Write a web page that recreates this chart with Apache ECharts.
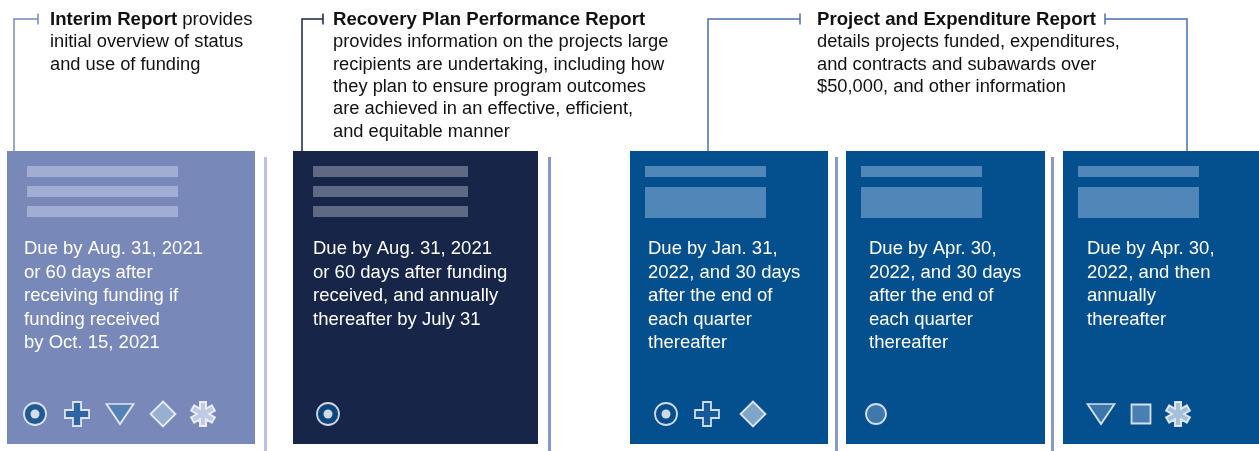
<!DOCTYPE html>
<html><head><meta charset="utf-8">
<script src="https://cdn.jsdelivr.net/npm/echarts@6/dist/echarts.min.js"></script>
<style>html,body{margin:0;padding:0;background:#fff}#c{width:1259px;height:451px}</style>
</head><body><div id="c"></div>
<script>
// ---------- content ----------
const reportTitles = ['Interim Report', 'Recovery Plan Performance Report', 'Project and Expenditure Report'];
const titleTails = [' provides', '', ''];
const headerLines = [
  ['initial overview of status', 'and use of funding'],
  ['provides information on the projects large', 'recipients are undertaking, including how', 'they plan to ensure program outcomes', 'are achieved in an effective, efficient,', 'and equitable manner'],
  ['details projects funded, expenditures,', 'and contracts and subawards over', '$50,000, and other information']
];
const dueLines = [
  ['Due by Aug. 31, 2021', 'or 60 days after', 'receiving funding if', 'funding received', 'by Oct. 15, 2021'],
  ['Due by Aug. 31, 2021', 'or 60 days after funding', 'received, and annually', 'thereafter by July 31'],
  ['Due by Jan. 31,', '2022, and 30 days', 'after the end of', 'each quarter', 'thereafter'],
  ['Due by Apr. 30,', '2022, and 30 days', 'after the end of', 'each quarter', 'thereafter'],
  ['Due by Apr. 30,', '2022, and then', 'annually', 'thereafter']
];
const boxReport = [0, 1, 2, 2, 2];
const boxIcons = [
  ['target', 'plus', 'triangle', 'diamond', 'asterisk'],
  ['target'],
  ['target', 'plus', 'diamond'],
  ['circle'],
  ['triangle', 'square', 'asterisk']
];

// ---------- layout ----------
const W = 1259, H = 451;
const FONT = '"Liberation Sans", Arial, Helvetica, sans-serif';
const FS = 18.5;
const HFS = 18.3;
const BOX_X = [[7, 255], [293, 538], [630, 828], [846, 1045], [1063, 1259]];
const BOX_TOP = 151, BOX_BOTTOM = 444;
const BOX_COLOR = ['#7888b8', '#172548', '#044f8d', '#044f8d', '#044f8d'];
const TEXT_DX = [17, 20, 18, 23, 24];
const DUE_Y0 = 249, DUE_LH = 23.5;
const SEPS = [[265.5, '#bcc2e3'], [549.5, '#8c97c9'], [836.5, '#8c97c9'], [1052.5, '#8c97c9']];
const SEP_TOP = 157;
const HEAD_X = [50, 333, 817];
const HEAD_Y0 = 20, HEAD_LH = 22.3;
const BRACKETS = [
  {color: '#7888b8', left: [14, 38]},
  {color: '#172548', left: [302, 323]},
  {color: '#4a70aa', left: [708, 800], right: [1105, 1187]}
];
const BRACKET_Y = 19;
const ICON_DX = [[28, 70, 113, 156, 196], [35], [36, 77, 123], [30], [38, 78, 115]];
const ICON_Y = 414;

// ---------- symbols ----------
const plusPath = 'path://M8,0H16V8H24V16H16V24H8V16H0V8H8Z';
const triPath = 'path://M0,0H28L14,22Z';
function starPath(n, L, w) {
  const beta = Math.PI / n, r = w / Math.sin(beta);
  const pts = [];
  for (let k = 0; k < n; k++) {
    const a = -Math.PI / 2 + k * 2 * Math.PI / n;
    const c = Math.cos(a), s = Math.sin(a);
    pts.push([L * c + w * s, L * s - w * c]);
    pts.push([L * c - w * s, L * s + w * c]);
    const b = a + beta;
    pts.push([r * Math.cos(b), r * Math.sin(b)]);
  }
  return 'path://M' + pts.map(p => (p[0] + L).toFixed(2) + ',' + (p[1] + L).toFixed(2)).join('L') + 'Z';
}
const ICON_STYLE = {
  target:   {symbol: 'circle', size: 22, color: '#0b4d8b'},
  plus:     {symbol: plusPath, size: 24, color: '#1d5c9c'},
  triangle: {symbol: triPath, size: [27, 20], color: '#4a80b5'},
  diamond:  {symbol: 'diamond', size: 25, color: '#9fbad8'},
  asterisk: {symbol: starPath(6, 12, 3.1), size: 24, color: '#cfdcee'},
  circle:   {symbol: 'circle', size: 20, color: '#4f82b5'},
  square:   {symbol: 'rect', size: 19, color: '#5b8bbd'}
};

const iconData = [], dotData = [];
boxIcons.forEach((list, i) => {
  list.forEach((name, k) => {
    const st = ICON_STYLE[name];
    const x = BOX_X[i][0] + ICON_DX[i][k];
    iconData.push({
      value: [x, ICON_Y], symbol: st.symbol, symbolSize: st.size,
      itemStyle: {color: st.color, borderColor: '#ffffff', borderWidth: 1.8}
    });
    if (name === 'target') dotData.push([x, ICON_Y]);
  });
});

const chart = echarts.init(document.getElementById('c'), null, {renderer: 'canvas'});

const option = {
  animation: false,
  backgroundColor: '#ffffff',
  grid: {left: 0, right: 0, top: 0, bottom: 0},
  xAxis: {type: 'value', min: 0, max: W, show: false},
  yAxis: {type: 'value', min: 0, max: H, inverse: true, show: false},
  series: [
    {
      type: 'custom', name: 'boxes', silent: true, clip: false, z: 2,
      data: dueLines.map((_, i) => [i, 0]),
      renderItem(params, api) {
        const i = params.dataIndex;
        const [x0, x1] = BOX_X[i];
        const tl = api.coord([x0, BOX_TOP]), br = api.coord([x1, BOX_BOTTOM]);
        const ch = [{type: 'rect', shape: {x: tl[0], y: tl[1], width: br[0] - tl[0], height: br[1] - tl[1]}, style: {fill: BOX_COLOR[i]}}];
        if (i < 2) {
          const fill = i === 0 ? '#a2add3' : '#5f6983';
          [166, 186, 206].forEach(y => {
            const p = api.coord([x0 + 20, y]);
            ch.push({type: 'rect', shape: {x: p[0], y: p[1], width: i === 0 ? 151 : 155, height: 11}, style: {fill}});
          });
        } else {
          const p1 = api.coord([x0 + 15, 166]);
          ch.push({type: 'rect', shape: {x: p1[0], y: p1[1], width: 121, height: 11}, style: {fill: '#5086b8'}});
          const p2 = api.coord([x0 + 15, 187]);
          ch.push({type: 'rect', shape: {x: p2[0], y: p2[1], width: 121, height: 31}, style: {fill: '#5086b8'}});
        }
        dueLines[i].forEach((line, k) => {
          const p = api.coord([x0 + TEXT_DX[i], DUE_Y0 + k * DUE_LH]);
          ch.push({type: 'text', style: {text: line, x: p[0], y: p[1], fill: '#ffffff', fontSize: FS, fontFamily: FONT, align: 'left', verticalAlign: 'middle'}});
        });
        return {type: 'group', children: ch};
      }
    },
    {
      type: 'custom', name: 'separators', silent: true, clip: false, z: 1,
      data: SEPS.map((s, i) => [i, 0]),
      renderItem(params, api) {
        const s = SEPS[params.dataIndex];
        const a = api.coord([s[0], SEP_TOP]), b = api.coord([s[0], H]);
        return {type: 'line', shape: {x1: a[0], y1: a[1], x2: b[0], y2: b[1]}, style: {stroke: s[1], lineWidth: 3}};
      }
    },
    {
      type: 'custom', name: 'headers', silent: true, clip: false, z: 3,
      data: reportTitles.map((_, i) => [i, 0]),
      renderItem(params, api) {
        const g = params.dataIndex;
        const br = BRACKETS[g];
        const ch = [];
        const L = br.left;
        ch.push({type: 'polyline', shape: {points: [api.coord([L[0], BOX_TOP]), api.coord([L[0], BRACKET_Y]), api.coord([L[1], BRACKET_Y])]}, style: {stroke: br.color, lineWidth: 1.5, fill: null}});
        let t1 = api.coord([L[1], BRACKET_Y - 5.5]), t2 = api.coord([L[1], BRACKET_Y + 5.5]);
        ch.push({type: 'line', shape: {x1: t1[0], y1: t1[1], x2: t2[0], y2: t2[1]}, style: {stroke: br.color, lineWidth: 1.5}});
        if (br.right) {
          const R = br.right;
          ch.push({type: 'polyline', shape: {points: [api.coord([R[0], BRACKET_Y]), api.coord([R[1], BRACKET_Y]), api.coord([R[1], BOX_TOP])]}, style: {stroke: br.color, lineWidth: 1.5, fill: null}});
          t1 = api.coord([R[0], BRACKET_Y - 5.5]); t2 = api.coord([R[0], BRACKET_Y + 5.5]);
          ch.push({type: 'line', shape: {x1: t1[0], y1: t1[1], x2: t2[0], y2: t2[1]}, style: {stroke: br.color, lineWidth: 1.5}});
        }
        const p0 = api.coord([HEAD_X[g], HEAD_Y0]);
        ch.push({type: 'text', style: {
          text: '{b|' + reportTitles[g] + '}{r|' + titleTails[g] + '}',
          x: p0[0], y: p0[1], align: 'left', verticalAlign: 'middle',
          fontSize: HFS, fontFamily: FONT, fill: '#111111',
          rich: {
            b: {fontSize: 18.6, fontFamily: FONT, fontWeight: 'bold', fill: '#111111', color: '#111111'},
            r: {fontSize: 18.6, fontFamily: FONT, fill: '#111111', color: '#111111'}
          }
        }});
        headerLines[g].forEach((line, k) => {
          const p = api.coord([HEAD_X[g], HEAD_Y0 + (k + 1) * HEAD_LH]);
          ch.push({type: 'text', style: {text: line, x: p[0], y: p[1], align: 'left', verticalAlign: 'middle', fontSize: HFS, fontFamily: FONT, fill: '#111111'}});
        });
        return {type: 'group', children: ch};
      }
    },
    {
      type: 'scatter', name: 'icons', silent: true, z: 5,
      data: iconData
    },
    {
      type: 'scatter', name: 'iconDots', silent: true, z: 6,
      symbol: 'circle', symbolSize: 9,
      itemStyle: {color: '#ffffff'},
      data: dotData
    }
  ]
};
chart.setOption(option);
</script>
</body></html>
